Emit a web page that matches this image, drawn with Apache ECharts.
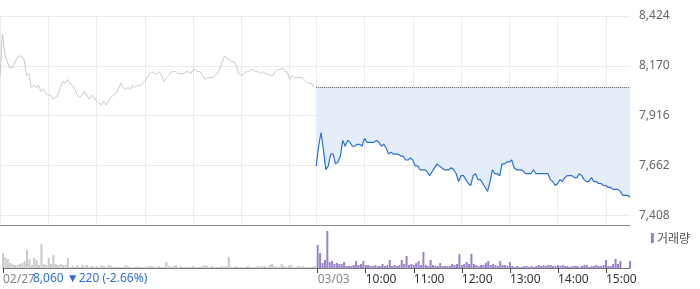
<!DOCTYPE html>
<html><head><meta charset="utf-8">
<script src="https://cdn.jsdelivr.net/npm/echarts@6/dist/echarts.min.js"></script>
<style>html,body{margin:0;padding:0;background:#fff}#c{width:700px;height:289px}</style>
</head><body><div id="c"></div>
<script>
// ---- data ----
const dayNames = ['02/27', '03/03'];
const stepMinutes = 3;            // one sample every 3 minutes, 09:00 .. 15:30
const prevClose = 8060;
const headerText = '8,060 ▼220 (-2.66%)';
const priceTicks = [7408, 7662, 7916, 8170, 8424];
const hourLabels = ['10:00', '11:00', '12:00', '13:00', '14:00', '15:00'];

const prices1 = [
8110,8330,8230,8190,8160,8160,8180,8210,8220,8220,
8200,8120,8130,8060,8070,8060,8070,8040,8050,8030,
8020,8020,8000,8010,8020,8060,8090,8080,8100,8080,
8070,8050,8020,8010,8020,8040,8020,8000,8020,8010,
7990,7980,7970,7990,7970,7990,8010,8020,8030,8050,
8080,8060,8050,8060,8050,8070,8060,8070,8070,8080,
8090,8110,8130,8140,8130,8130,8140,8120,8090,8110,
8120,8140,8140,8140,8130,8130,8130,8140,8140,8130,
8150,8150,8140,8140,8120,8100,8110,8110,8110,8120,
8130,8150,8190,8220,8210,8200,8190,8190,8170,8130,
8120,8130,8140,8140,8150,8150,8140,8140,8130,8140,
8130,8130,8120,8120,8140,8150,8150,8160,8140,8140,
8100,8120,8110,8110,8110,8110,8100,8090,8080,8080,
8060];
const prices2 = [
7660,7760,7830,7740,7640,7660,7720,7720,7670,7680,
7710,7790,7760,7790,7780,7760,7760,7770,7770,7760,
7800,7780,7780,7780,7780,7790,7780,7760,7770,7750,
7720,7730,7720,7720,7720,7710,7710,7690,7690,7700,
7690,7660,7660,7640,7640,7640,7630,7610,7630,7650,
7670,7660,7650,7640,7640,7640,7650,7640,7620,7580,
7610,7610,7590,7570,7560,7610,7620,7590,7590,7570,
7550,7530,7580,7640,7620,7620,7610,7670,7670,7680,
7680,7690,7650,7640,7640,7640,7630,7620,7620,7620,
7640,7620,7620,7620,7620,7620,7620,7590,7580,7560,
7570,7590,7580,7600,7610,7610,7610,7600,7600,7620,
7610,7590,7580,7580,7600,7580,7580,7570,7570,7560,
7560,7550,7550,7540,7540,7540,7530,7510,7510,7510,
7500];
// volume, thousand shares
const volumes1 = [
15,11,9,5,4,3,3,4,5,7,
18,9,3,10,8,3,24,4,3,10,
4,13,4,3,4,3,3,10,1,2,
1,3,1,3,2,3,1,2,1,2,
1,3,2,1,3,2,1,1,1,1,
1,3,2,1,1,1,2,1,1,1,
1,2,2,1,1,2,1,1,6,2,
1,2,3,1,2,1,1,1,1,2,
1,1,1,2,3,2,1,2,1,1,
1,2,1,2,11,1,1,2,1,1,
1,1,2,1,1,1,2,1,2,2,
1,3,4,2,1,1,4,2,1,2,
3,1,1,2,1,2,1,1,1,1,
2];
const volumes2 = [
23,15,5,8,37,6,7,4,5,4,
4,6,2,2,2,3,7,3,4,7,
3,3,2,2,3,2,2,4,2,3,
8,2,3,2,3,8,4,12,3,4,
3,5,7,3,16,3,2,8,3,2,
2,5,2,2,2,2,4,3,4,14,
3,4,6,4,14,4,3,2,3,3,
5,7,3,4,3,2,7,3,3,2,
6,2,1,2,1,1,2,2,1,2,
1,2,3,2,3,2,3,3,2,2,
3,2,3,2,2,1,2,2,2,1,
2,3,3,1,2,2,3,2,2,3,
8,2,2,4,9,4,7,0,0,0,
7];

// ---- build categories ----
const categories = [];
dayNames.forEach(d => {
  for (let m = 0; m <= 390; m += stepMinutes) {
    const t = 9 * 60 + m;
    const hh = String(Math.floor(t / 60)).padStart(2, '0');
    const mm = String(t % 60).padStart(2, '0');
    categories.push(d + ' ' + hh + ':' + mm);
  }
});
const perDay = prices1.length;
const n = categories.length;
const line1 = categories.map((c, i) => i < perDay ? prices1[i] : null);
const line2 = categories.map((c, i) => i >= perDay ? prices2[i - perDay] : null);
const vols = volumes1.concat(volumes2);

function timeOf(c) { return c.split(' ')[1]; }
function dateOf(c) { return c.split(' ')[0]; }
function isGridLine(i) {
  const c = categories[i]; const t = timeOf(c);
  return t === '09:00' || (t.endsWith(':00') && t !== '09:00' && t <= '15:00');
}
function labelOf(i) {
  const c = categories[i]; const t = timeOf(c);
  if (t === '09:00') return dateOf(c);
  if (dateOf(c) === dayNames[1] && hourLabels.indexOf(t) >= 0) return t;
  return null;
}

const chart = echarts.init(document.getElementById('c'), null, {renderer: 'canvas'});
const FONT = 'Noto Sans';
chart.setOption({
  animation: false,
  textStyle: {fontFamily: FONT},
  title: {
    text: headerText, left: 33, top: 273, padding: 0,
    textStyle: {fontSize: 12, fontWeight: 'normal', color: '#2f6ed8', fontFamily: FONT}
  },
  legend: {
    data: ['거래량'], right: 10, top: 232, icon: 'rect', itemWidth: 3, itemHeight: 10,
    itemGap: 0, padding: 0,
    textStyle: {fontSize: 12, color: '#555', fontFamily: 'Noto Sans CJK KR', padding: [0, 0, 0, -2]}
  },
  grid: [
    {left: 0, right: 70, top: 16, height: 209.5},
    {left: 0, right: 70, top: 227, height: 41}
  ],
  xAxis: [
    {
      type: 'category', gridIndex: 0, data: categories, boundaryGap: false,
      axisLine: {show: true, lineStyle: {color: '#888', width: 1}},
      axisTick: {show: false}, axisLabel: {show: false},
      splitLine: {show: true, interval: (i) => isGridLine(i), lineStyle: {color: '#ebebeb', width: 1}}
    },
    {
      type: 'category', gridIndex: 1, data: categories, boundaryGap: false,
      axisLine: {show: true, lineStyle: {color: '#777', width: 1}},
      axisTick: {show: true, interval: (i) => labelOf(i) !== null, length: 5, lineStyle: {color: '#444'}},
      axisLabel: {
        show: true, interval: (i) => labelOf(i) !== null,
        formatter: (v, i) => labelOf(i) || '',
        align: 'left', margin: 6, fontSize: 12, fontFamily: FONT,
        color: (v) => (timeOf(v) === '09:00' ? '#888' : '#333')
      },
      splitLine: {show: false}
    }
  ],
  yAxis: [
    {
      type: 'value', gridIndex: 0, position: 'right', min: 7356, max: 8424,
      axisLine: {show: false}, axisTick: {show: false, customValues: priceTicks},
      axisLabel: {
        customValues: priceTicks, margin: 9, fontSize: 12, color: '#666', fontFamily: FONT,
        formatter: (v) => v.toLocaleString('en-US')
      },
      splitLine: {show: true, lineStyle: {color: '#ebebeb', width: 1}}
    },
    {
      type: 'value', gridIndex: 1, min: 0, max: 41, show: false, splitLine: {show: false}
    }
  ],
  series: [
    {
      name: '02/27', type: 'line', xAxisIndex: 0, yAxisIndex: 0, data: line1,
      symbol: 'none', connectNulls: false, lineStyle: {color: '#c8c9cc', width: 1}, z: 3
    },
    {
      name: '03/03', type: 'line', xAxisIndex: 0, yAxisIndex: 0, data: line2,
      symbol: 'none', connectNulls: false, lineStyle: {color: '#2a6fdc', width: 1.2},
      areaStyle: {color: '#e5edf9', origin: prevClose, opacity: 1}, z: 4,
      markLine: {
        silent: true, symbol: 'none', label: {show: false},
        lineStyle: {color: '#555', type: 'dotted', width: 1},
        data: [[{coord: [categories[perDay], prevClose]}, {coord: [categories[n - 1], prevClose]}]]
      }
    },
    {
      name: '거래량', type: 'bar', xAxisIndex: 1, yAxisIndex: 1, data: vols,
      barWidth: 2, itemStyle: {color: (p) => p.dataIndex < perDay ? '#c8c9cc' : '#9a82c6'},
      color: '#9a82c6'
    }
  ]
});
</script></body></html>
